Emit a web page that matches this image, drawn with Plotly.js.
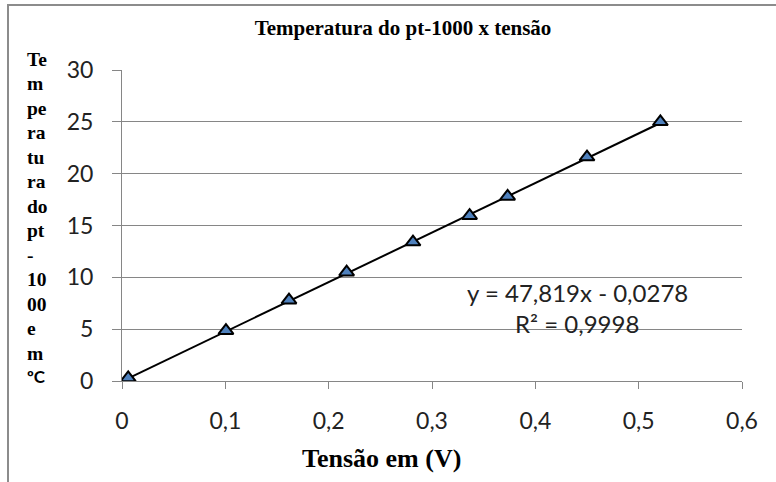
<!DOCTYPE html>
<html>
<head>
<meta charset="utf-8">
<script src="https://cdn.plot.ly/plotly-3.0.1.min.js"></script>
<style>
html,body{margin:0;padding:0;background:#fff;}
#chart{width:776px;height:482px;position:absolute;left:0;top:0;}
#frame{position:absolute;left:7px;top:4px;width:800px;height:500px;border-left:2px solid #8c8c8c;border-top:2px solid #8c8c8c;pointer-events:none;}
</style>
</head>
<body>
<div id="chart"></div>
<div id="frame"></div>
<script>
// Data
const tensao = [0.006, 0.1006, 0.1616, 0.2174, 0.2816, 0.3364, 0.3732, 0.450, 0.521];
const temperatura = [0.3, 4.85, 7.8, 10.5, 13.4, 15.95, 17.8, 21.6, 25.0];
// Trendline coefficients as printed on the chart
const slope = 47.819;
const intercept = -0.0278;
const eqText = "y = 47,819x - 0,0278";
const r2Text = "R² = 0,9998";
const chartTitle = "Temperatura do pt-1000 x tensão";
const xTitle = "Tensão em (V)";
const xTickVals = [0, 0.1, 0.2, 0.3, 0.4, 0.5, 0.6];
const xTickText = ["0", "0,1", "0,2", "0,3", "0,4", "0,5", "0,6"];
const yTickVals = [0, 5, 10, 15, 20, 25, 30];
const yTitleLines = ["Te","m","pe","ra","tu","ra","do","pt","-","10","00","e","m","ºC"];

const xMin = Math.min(...tensao), xMax = Math.max(...tensao);
const trendX = [xMin, xMax];
const trendY = trendX.map(v => slope * v + intercept);

const W = 776, H = 482;
const mL = 121.7, mR = 34.3, mT = 69.6, mB = 101;
const plotW = W - mL - mR, plotH = H - mT - mB;
const px = v => (v - mL) / plotW;          // pixel x -> paper x
const py = v => (H - mB - v) / plotH;      // pixel y -> paper y

const traces = [
  {x: trendX, y: trendY, mode: 'lines', type: 'scatter',
   line: {color: '#000', width: 2}, hoverinfo: 'skip', showlegend: false},
  {x: tensao, y: temperatura, mode: 'markers', type: 'scatter',
   marker: {symbol: 'triangle-up', size: 13, color: '#4F81BD', line: {color: '#000', width: 2}},
   showlegend: false}
];

const annotations = [];
const serif = '"Liberation Serif", "Times New Roman", serif';
const sans = 'Lato, "Open Sans", sans-serif';
yTitleLines.forEach((t, i) => {
  const last = i === yTitleLines.length - 1;
  const cy = last ? 376 : 59 + i * 24.5;
  annotations.push({
    text: '<b>' + t + '</b>', xref: 'paper', yref: 'paper',
    x: px(25), y: py(cy),
    xanchor: 'left', yanchor: 'middle', showarrow: false,
    font: {family: last ? sans : serif, size: last ? 17 : 19.5, color: '#000'}
  });
});
annotations.push({
  text: eqText, xref: 'paper', yref: 'paper',
  x: px(577), y: py(292),
  xanchor: 'center', yanchor: 'middle', showarrow: false,
  font: {family: sans, size: 24, color: '#222'}
});
annotations.push({
  text: r2Text, xref: 'paper', yref: 'paper',
  x: px(577), y: py(323),
  xanchor: 'center', yanchor: 'middle', showarrow: false,
  font: {family: sans, size: 24, color: '#222'}
});
annotations.push({
  text: '<b>' + xTitle + '</b>', xref: 'paper', yref: 'paper',
  x: px(381), y: py(459),
  xanchor: 'center', yanchor: 'middle', showarrow: false,
  font: {family: serif, size: 26, color: '#000'}
});

const layout = {
  width: W, height: H,
  margin: {l: mL, r: mR, t: mT, b: mB, pad: 0},
  paper_bgcolor: '#fff', plot_bgcolor: '#fff',
  title: {text: '<b>' + chartTitle + '</b>', x: 403 / W, xanchor: 'center', y: 1 - 28 / H, yanchor: 'middle',
          font: {family: serif, size: 21, color: '#000'}},
  xaxis: {range: [0, 0.6], tickvals: xTickVals, ticktext: xTickText,
          showgrid: false, zeroline: false, showline: true, linecolor: '#868686', linewidth: 1,
          ticks: 'outside', ticklen: 7, tickcolor: '#868686', ticklabelstandoff: 12,
          tickfont: {family: sans, size: 23, color: '#222'}},
  yaxis: {range: [0, 30], tickvals: yTickVals,
          showgrid: true, gridcolor: '#868686', gridwidth: 1, zeroline: false,
          showline: true, linecolor: '#868686', linewidth: 1,
          ticks: 'outside', ticklen: 9, tickcolor: '#868686', ticklabelstandoff: 14,
          tickfont: {family: sans, size: 23, color: '#222'}},
  annotations: annotations
};

Plotly.newPlot('chart', traces, layout, {displayModeBar: false, staticPlot: true});
</script>
</body>
</html>
